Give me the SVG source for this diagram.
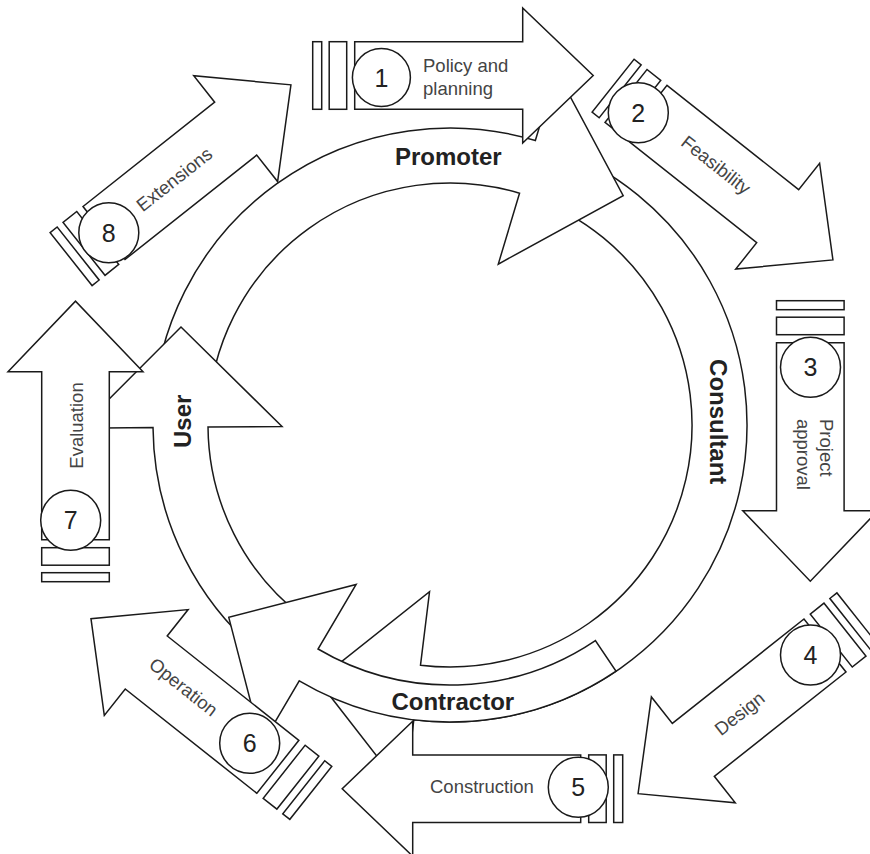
<svg xmlns="http://www.w3.org/2000/svg" xmlns:xlink="http://www.w3.org/1999/xlink" width="870" height="854" viewBox="0 0 870 854">
<style>
.s{fill:#fff;stroke:#1a1a1a;stroke-width:1.5;stroke-linejoin:miter}
.lbl{font-family:"Liberation Sans",Arial,Helvetica,sans-serif;font-size:18.5px;fill:#444}
.num{font-family:"Liberation Sans",Arial,Helvetica,sans-serif;font-size:25px;fill:#222;text-anchor:middle}
.role{font-family:"Liberation Sans",Arial,Helvetica,sans-serif;font-size:24px;font-weight:bold;fill:#222;text-anchor:middle}
</style>
<defs>
<g id="stepArrow" class="s">
<rect x="0" y="-33.8" width="9" height="67.6"/>
<rect x="16.5" y="-33.8" width="17.5" height="67.6"/>
<polygon points="42,-33.8 210,-33.8 210,-67.5 280.5,0 210,67.5 210,33.8 42,33.8"/>
</g>
</defs>
<rect width="870" height="854" fill="#fff"/>
<g id="connectors">
<g id="consultant">
<path class="s" d="M546.69,144.18 A297,297 0 0 1 413.81,719.79 L404.91,792.24 L317.9,680.3 L429.53,591.75 L420.51,665.2 A242,242 0 0 0 528.79,196.18 Z"/>
<text class="role" transform="translate(710,421.7) rotate(90)">Consultant</text>
</g>
<g id="promoter">
<path class="s" d="M153.18,414.63 A297,297 0 0 1 535.35,140.53 L556.32,70.61 L623.2,195.6 L498.28,264.09 L519.54,193.21 A242,242 0 0 0 208.15,416.55 Z"/>
<text class="role" x="448.3" y="165">Promoter</text>
</g>
<g id="user">
<path class="s" d="M271.26,662.2 A297,297 0 0 1 153.01,427.59 L80.01,428.23 L181,327 L282,426.47 L208.01,427.11 A242,242 0 0 0 304.36,618.27 Z"/>
<text class="role" transform="translate(190.7,421.3) rotate(-90)">User</text>
</g>
<g id="contractor">
<path class="s" d="M616.08,671.22 A297,297 0 0 1 299.26,680.9 L261.7,744.66 L228.77,617.33 L356.11,584.4 L318.04,649.02 A260,260 0 0 0 595.39,640.55 Z"/>
<text class="role" x="452.8" y="710">Contractor</text>
</g>
</g>
<g id="step1">
<use xlink:href="#stepArrow" transform="translate(312.7,75.5)"/>
<circle class="s" cx="381.4" cy="77.5" r="29"/>
<text class="num" x="381.4" y="86.5">1</text>
<text class="lbl" x="423" y="71.7">Policy and</text>
<text class="lbl" x="423" y="95">planning</text>
</g>
<g id="step2">
<use xlink:href="#stepArrow" transform="translate(613.1,85.7) rotate(38.4)"/>
<circle class="s" cx="638.3" cy="112.7" r="30"/>
<text class="num" x="638.3" y="121.7">2</text>
<text class="lbl" text-anchor="middle" transform="translate(712,170) rotate(38.4)">Feasibility</text>
</g>
<g id="step3">
<use xlink:href="#stepArrow" transform="translate(810.3,300.7) rotate(90)"/>
<circle class="s" cx="810.5" cy="367.3" r="30"/>
<text class="num" x="810.5" y="376.3">3</text>
<text class="lbl" transform="translate(820,419) rotate(90)">Project</text>
<text class="lbl" transform="translate(796.7,419) rotate(90)">approval</text>
</g>
<g id="step4">
<use xlink:href="#stepArrow" transform="translate(857.9,619.4) rotate(141.6)"/>
<circle class="s" cx="810.5" cy="655" r="30"/>
<text class="num" x="810.5" y="664">4</text>
<text class="lbl" text-anchor="middle" transform="translate(743.5,718.5) rotate(-38.4)">Design</text>
</g>
<g id="step5">
<use xlink:href="#stepArrow" transform="translate(622.7,788.7) rotate(180)"/>
<circle class="s" cx="578.3" cy="787.3" r="30"/>
<text class="num" x="578.3" y="796.3">5</text>
<text class="lbl" x="430" y="792.7">Construction</text>
</g>
<g id="step6">
<use xlink:href="#stepArrow" transform="translate(310.8,792.9) rotate(218.4)"/>
<circle class="s" cx="249.7" cy="743.3" r="30"/>
<text class="num" x="249.7" y="752.3">6</text>
<text class="lbl" text-anchor="middle" transform="translate(179.6,692) rotate(38.4)">Operation</text>
</g>
<g id="step7">
<use xlink:href="#stepArrow" transform="translate(75.5,581.7) rotate(-90)"/>
<circle class="s" cx="70.7" cy="520.3" r="30"/>
<text class="num" x="70.7" y="529.3">7</text>
<text class="lbl" text-anchor="middle" transform="translate(82.7,425.5) rotate(-90)">Evaluation</text>
</g>
<g id="step8">
<use xlink:href="#stepArrow" transform="translate(71.1,259.1) rotate(-38.4)"/>
<circle class="s" cx="108.8" cy="232.7" r="30"/>
<text class="num" x="108.8" y="241.7">8</text>
<text class="lbl" text-anchor="middle" transform="translate(178.3,184.4) rotate(-38.4)">Extensions</text>
</g>
</svg>
